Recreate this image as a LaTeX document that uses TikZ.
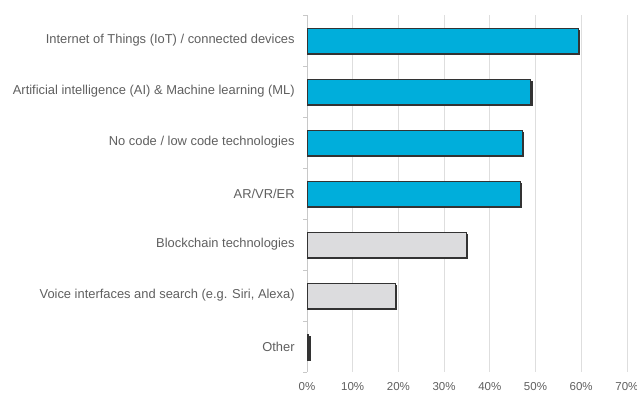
\documentclass[tikz,border=0pt]{standalone}
\usepackage{fontspec}
\setmainfont{Liberation Sans}
\usetikzlibrary{calc}
\definecolor{barblue}{RGB}{0,174,219}
\definecolor{bargray}{RGB}{220,220,222}
\definecolor{bartext}{RGB}{95,95,95}
\definecolor{gridgray}{RGB}{222,222,222}
\definecolor{axisgray}{RGB}{200,200,200}
\definecolor{bardark}{RGB}{51,51,51}
\tikzset{every picture/.style={line width=0.75pt},
  gridline/.style={draw=gridgray, line width=0.8pt},
  axisline/.style={draw=axisgray, line width=0.8pt},
  barshadow/.style={fill=bardark, draw=none},
  barbox/.style={draw=bardark, line width=0.9pt},
  catlabel/.style={anchor=east, inner sep=0pt, text=bartext, font=\fontsize{12.9}{14}\selectfont},
  ticklabel/.style={anchor=center, inner sep=0pt, text=bartext, font=\fontsize{11.5}{13}\selectfont}}

\begin{document}
\begin{tikzpicture}[x=1pt,y=1pt,yscale=-1,xscale=1]
		\useasboundingbox (0,0) rectangle (637,394);

		% Grid lines and tick labels
		\foreach \p [count=\k from 0] in {0,10,...,70} {
			\coordinate (g\k) at (307+45.7*\k,15);
			\draw [gridline] (g\k) -- ++(0,357);
			\node [ticklabel] (t\k) at (307+45.7*\k,387) {\p\%};
		}
		% Axis with ticks
		\draw [axisline] (g0) -- ++(0,357);
		\foreach \j in {0,...,7}
			\draw [axisline] (303,15+51*\j) -- (307,15+51*\j);

		% Bars
		\foreach \lab/\val/\col [count=\i from 0] in {
			{Internet of Things (IoT) / connected devices}/59.3/barblue,
			{Artificial intelligence (AI) \& Machine learning (ML)}/49.0/barblue,
			{No code / low code technologies}/47.1/barblue,
			{AR/VR/ER}/46.6/barblue,
			{Blockchain technologies}/34.8/bargray,
			{Voice interfaces and search (e.g. Siri, Alexa)}/19.4/bargray,
			{Other}/0.4/bargray} {
			\coordinate (b\i) at (307,40.5+51*\i);
			\fill [barshadow] ($(b\i)+(0,-11)$) rectangle ($(b\i)+(4.57*\val+1.8,14.3)$);
			\draw [barbox, fill=\col] ($(b\i)+(0,-12.5)$) rectangle ($(b\i)+(4.57*\val,12.5)$);
			\node [catlabel] (c\i) at (295,40.5+51*\i) {\lab};
		}
\end{tikzpicture}
\end{document}
